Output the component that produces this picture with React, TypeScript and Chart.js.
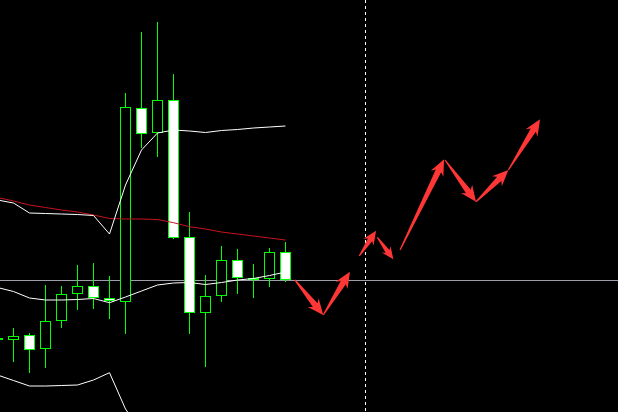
import { useEffect, useRef } from "react";
import { Chart, registerables } from "chart.js";

Chart.register(...registerables);

// Bar positions (bar index on the time axis)
const barIndex = [-1, 0, 1, 2, 3, 4, 5, 6, 7, 8, 9, 10, 11, 12, 13, 14, 15, 16, 17];
// OHLC prices (arbitrary price units)
const opens = [72, 72, 77, 63, 91, 118, 126, 114, 110, 304, 279, 312, 175, 99, 116, 152, 132, 133, 160];
const highs = [80, 84, 79, 127, 126, 147, 149, 136, 319, 380, 390, 338, 200, 137, 166, 163, 148, 164, 170];
const lows = [60, 50, 39, 44, 84, 102, 103, 93, 78, 264, 255, 173, 78, 45, 110, 118, 114, 125, 130];
const closes = [74, 76, 62, 91, 118, 126, 114, 111, 305, 278, 312, 174, 99, 116, 152, 134, 134, 160, 132];

// Bollinger bands
const upperBand = [212, 209, 199, 198.5, 198, 197.5, 196.5, 178, 227, 262, 279, 282, 281, 279.5, 281.5, 282.5, 284, 285, 286];
const middleBand = [124.5, 120.5, 114, 112, 112, 112.5, 113.5, 109.3, 115, 121, 127, 129, 129.5, 127.5, 129.5, 132, 133.5, 136.5, 140];
const lowerBand = [37, 31.5, 26, 26, 26.5, 27, 32, 39.3, 3, -20, -25, -24, -22, -24.5, -22.5, -18.5, -17, -12, -6];
// Moving average (red)
const movingAverage = [214.5, 211, 207, 204.5, 202, 200, 197, 193.5, 193, 193, 192.5, 189.3, 185.3, 183, 180, 178, 176, 174, 172];

// Forecast arrows (bar index, price)
const arrowFromX = [17.59, 19.36, 21.61, 22.74, 24.16, 26.97, 28.91, 30.93];
const arrowFromY = [132, 97, 156, 174.7, 162, 252, 210.3, 242];
const arrowToX = [19.36, 21.03, 22.66, 23.74, 26.91, 28.91, 30.93, 32.91];
const arrowToY = [97, 140.3, 181.3, 152.7, 252.7, 210.3, 242, 292.7];

// Separator (dotted vertical line) at bar index
const separatorIndex = 22;

const X_MIN = -0.84375;
const X_MAX = 37.78125;
const Y_MIN = 0;
const Y_MAX = 412;

function drawArrow(ctx: CanvasRenderingContext2D, x0: number, y0: number, x1: number, y1: number) {
  const dx = x1 - x0;
  const dy = y1 - y0;
  const L = Math.hypot(dx, dy);
  if (L < 1) return;
  const ux = dx / L;
  const uy = dy / L;
  const nx = -uy;
  const ny = ux;
  const headLen = Math.min(16, L * 0.45);
  const headW = Math.min(7, L * 0.2);
  const shaftW = Math.min(3, L * 0.085);
  const tailW = 0.6;
  const pt = (d: number, w: number) => [x0 + ux * d + nx * w, y0 + uy * d + ny * w];
  const pts = [
    pt(0, tailW),
    pt(L - headLen * 0.8, shaftW),
    pt(L - headLen, headW),
    pt(L, 0),
    pt(L - headLen, -headW),
    pt(L - headLen * 0.8, -shaftW),
    pt(0, -tailW),
  ];
  ctx.beginPath();
  ctx.moveTo(pts[0][0], pts[0][1]);
  for (let i = 1; i < pts.length; i++) ctx.lineTo(pts[i][0], pts[i][1]);
  ctx.closePath();
  ctx.fill();
}

const overlayPlugin = {
  id: "overlay",
  beforeDraw(chart: any) {
    const ctx = chart.ctx;
    ctx.save();
    ctx.fillStyle = "#000000";
    ctx.fillRect(0, 0, chart.width, chart.height);
    ctx.restore();
  },
  beforeDatasetsDraw(chart: any) {
    const ctx = chart.ctx;
    const y = Math.round(chart.scales.y.getPixelForValue(closes[closes.length - 1])) + 0.5;
    ctx.save();
    ctx.strokeStyle = "#9d9dab";
    ctx.lineWidth = 1;
    ctx.beginPath();
    ctx.moveTo(0, y);
    ctx.lineTo(chart.width, y);
    ctx.stroke();
    ctx.restore();
  },
  afterDatasetsDraw(chart: any) {
    const ctx = chart.ctx;
    const xs = chart.scales.x;
    const ys = chart.scales.y;
    ctx.save();
    const sx = Math.floor(xs.getPixelForValue(separatorIndex)) + 0.5;
    ctx.strokeStyle = "#ffffff";
    ctx.lineWidth = 1;
    ctx.setLineDash([3, 3]);
    ctx.beginPath();
    ctx.moveTo(sx, 0);
    ctx.lineTo(sx, chart.height);
    ctx.stroke();
    ctx.setLineDash([]);
    ctx.fillStyle = "#ff3636";
    for (let i = 0; i < arrowFromX.length; i++) {
      drawArrow(
        ctx,
        xs.getPixelForValue(arrowFromX[i]),
        ys.getPixelForValue(arrowFromY[i]),
        xs.getPixelForValue(arrowToX[i]),
        ys.getPixelForValue(arrowToY[i])
      );
    }
    ctx.restore();
  },
};

export default function App() {
  const canvasRef = useRef<HTMLCanvasElement | null>(null);

  useEffect(() => {
    document.body.style.margin = "0";
    document.body.style.background = "#000";
    const canvas = canvasRef.current;
    if (!canvas) return;
    const green = "#00ff00";
    const lineData = (arr: number[]) => barIndex.map((x, i) => ({ x, y: arr[i] }));
    const chart = new Chart(canvas, {
      type: "bar",
      data: {
        datasets: [
          {
            type: "line",
            label: "Upper",
            data: lineData(upperBand),
            borderColor: "#ffffff",
            borderWidth: 1,
            pointRadius: 0,
            tension: 0,
            order: 0,
          },
          {
            type: "line",
            label: "Middle",
            data: lineData(middleBand),
            borderColor: "#ffffff",
            borderWidth: 1,
            pointRadius: 0,
            tension: 0,
            order: 0,
          },
          {
            type: "line",
            label: "Lower",
            data: lineData(lowerBand),
            borderColor: "#ffffff",
            borderWidth: 1,
            pointRadius: 0,
            tension: 0,
            order: 0,
          },
          {
            type: "line",
            label: "MA",
            data: lineData(movingAverage),
            borderColor: "#c8141e",
            borderWidth: 1,
            pointRadius: 0,
            tension: 0,
            order: 0,
          },
          {
            type: "bar",
            label: "Body",
            data: barIndex.map((x, i) => ({ x, y: [opens[i], closes[i]] })),
            backgroundColor: barIndex.map((_, i) => (closes[i] < opens[i] ? "#ffffff" : "#000000")),
            borderColor: green,
            borderWidth: 1,
            borderSkipped: false,
            barThickness: 11,
            grouped: false,
            inflateAmount: 0,
            order: 1,
          } as any,
          {
            type: "bar",
            label: "Wick",
            data: barIndex.map((x, i) => ({ x, y: [lows[i], highs[i]] })),
            backgroundColor: green,
            borderWidth: 0,
            barThickness: 1,
            grouped: false,
            inflateAmount: 0,
            order: 2,
          } as any,
        ],
      },
      options: {
        animation: false,
        responsive: false,
        maintainAspectRatio: false,
        devicePixelRatio: 1,
        events: [],
        layout: { padding: 0 },
        plugins: {
          legend: { display: false },
          tooltip: { enabled: false },
        },
        scales: {
          x: { type: "linear", min: X_MIN, max: X_MAX, offset: false, display: false },
          y: { type: "linear", min: Y_MIN, max: Y_MAX, display: false },
        },
      } as any,
      plugins: [overlayPlugin],
    });
    return () => chart.destroy();
  }, []);

  return (
    <div style={{ width: 618, height: 412, background: "#000" }}>
      <canvas ref={canvasRef} width={618} height={412} style={{ display: "block", width: 618, height: 412 }} />
    </div>
  );
}
